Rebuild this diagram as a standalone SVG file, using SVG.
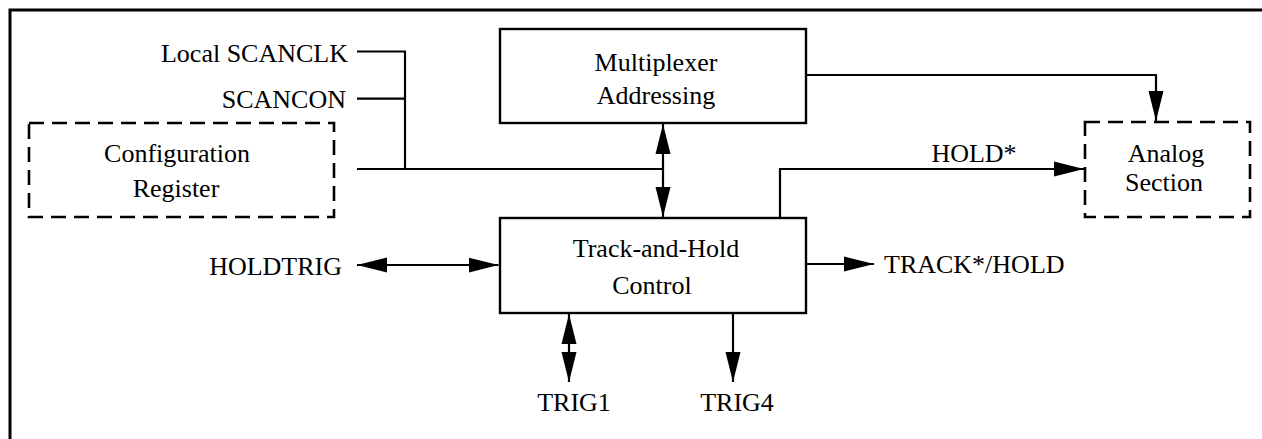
<svg xmlns="http://www.w3.org/2000/svg" width="1262" height="439" viewBox="0 0 1262 439">
<style>
.box{fill:#fff;stroke:#000;stroke-width:2.4}
.dash{fill:#fff;stroke:#000;stroke-width:2.6;stroke-dasharray:15 8}
.ln{fill:none;stroke:#000;stroke-width:2.2}
text{font-family:"Liberation Serif","Times New Roman",serif;font-size:26px;fill:#000}
.c{text-anchor:middle}
.e{text-anchor:end}
</style>
<defs>
<marker id="ah" markerUnits="userSpaceOnUse" markerWidth="30" markerHeight="16" refX="30" refY="8" orient="auto-start-reverse" viewBox="0 0 30 16">
<path d="M0,0.5 L30,8 L0,15.5 z" fill="#000"/>
</marker>
</defs>
<rect width="1262" height="439" fill="#fff"/>
<path d="M10,439 V10 H1262" fill="none" stroke="#000" stroke-width="3"/>
<g id="connectors">
<path class="ln" d="M357,51.5 H405 V169"/>
<path class="ln" d="M357,98.7 H405"/>
<path class="ln" d="M357,169 H663"/>
<path class="ln" d="M663,124 V217" marker-start="url(#ah)" marker-end="url(#ah)"/>
<path class="ln" d="M806,75 H1156 V121" marker-end="url(#ah)"/>
<path class="ln" d="M780,218 V169 H1084" marker-end="url(#ah)"/>
<path class="ln" d="M806,264 H874" marker-end="url(#ah)"/>
<path class="ln" d="M357,265 H498.5" marker-start="url(#ah)" marker-end="url(#ah)"/>
<path class="ln" d="M569,314 V343"  marker-start="url(#ah)"/>
<path class="ln" d="M569,343 V382" marker-end="url(#ah)"/>
<path class="ln" d="M733,313 V382" marker-end="url(#ah)"/>
</g>
<g id="labels">
<text class="e" x="348" y="62">Local SCANCLK</text>
<text class="e" x="346" y="108">SCANCON</text>
<text class="e" x="342" y="275">HOLDTRIG</text>
<text x="884" y="273">TRACK*/HOLD</text>
<text class="c" x="974" y="162">HOLD*</text>
<text class="c" x="574" y="411">TRIG1</text>
<text class="c" x="737" y="411">TRIG4</text>
</g>
<g id="mux">
<rect class="box" x="500" y="29" width="306" height="94"/>
<text class="c" x="656" y="71">Multiplexer</text>
<text class="c" x="656" y="104">Addressing</text>
</g>
<g id="config">
<rect class="dash" x="29" y="123" width="305" height="94"/>
<text class="c" x="177" y="162">Configuration</text>
<text class="c" x="176" y="197">Register</text>
</g>
<g id="trackhold">
<rect class="box" x="500" y="218" width="306" height="95"/>
<text class="c" x="656" y="257">Track-and-Hold</text>
<text class="c" x="652" y="294">Control</text>
</g>
<g id="analog">
<rect class="dash" x="1085" y="122" width="165" height="95"/>
<text class="c" x="1166" y="162">Analog</text>
<text class="c" x="1164" y="191">Section</text>
</g>
</svg>
